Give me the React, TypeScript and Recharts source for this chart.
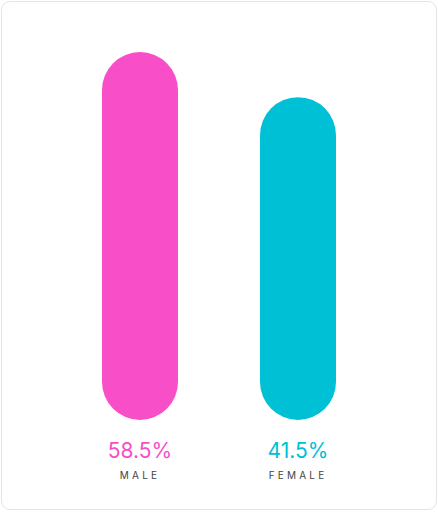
import { BarChart, Bar, XAxis, YAxis, Cell } from 'recharts';

const genders = ['MALE', 'FEMALE'];
const shares = [58.5, 41.5];
// bars start from a floor below zero, so their heights are not proportional to the values
const floor = -80;

const palette = ['#f84fc9', '#00c0d6'];

const data = genders.map((name, i) => ({ name, share: shares[i] }));

function GenderTick(props: any) {
    const { x, y, payload, index } = props;
    const i = index ?? genders.indexOf(payload.value);
    return (
        <g transform={`translate(${x},${y})`}>
            <text
                x={0}
                y={0}
                dy={38}
                textAnchor="middle"
                fill={palette[i]}
                style={{ fontFamily: 'Inter, sans-serif', fontSize: 21, fontWeight: 400 }}
            >
                {`${shares[i]}%`}
            </text>
            <text
                x={0}
                y={0}
                dy={59}
                textAnchor="middle"
                fill="#444"
                style={{ fontFamily: 'Inter, sans-serif', fontSize: 10, letterSpacing: 3.2 }}
            >
                {payload.value}
            </text>
        </g>
    );
}

export default function App() {
    return (
        <div style={{ position: 'absolute', left: 0, top: 0, width: 438, height: 512, background: '#fff' }}>
            <div
                style={{
                    position: 'absolute',
                    left: 1,
                    top: 1,
                    width: 434,
                    height: 507,
                    border: '1px solid #e4e4e4',
                    borderRadius: 9,
                }}
            />
            <div style={{ position: 'absolute', left: 0, top: 0 }}>
                <BarChart
                    width={438}
                    height={512}
                    data={data}
                    margin={{ top: 52, right: 61, bottom: 32, left: 61 }}
                    barCategoryGap={41}
                >
                    <YAxis hide domain={[floor, 58.5]} />
                    <XAxis
                        dataKey="name"
                        height={60}
                        axisLine={false}
                        tickLine={false}
                        tickMargin={0}
                        tickSize={0}
                        interval={0}
                        tick={<GenderTick />}
                    />
                    <Bar
                        dataKey={(d: any) => [floor, d.share]}
                        barSize={76}
                        radius={[38, 38, 38, 38]}
                        isAnimationActive={false}
                    >
                        {data.map((d, i) => (
                            <Cell key={d.name} fill={palette[i]} />
                        ))}
                    </Bar>
                </BarChart>
            </div>
        </div>
    );
}
